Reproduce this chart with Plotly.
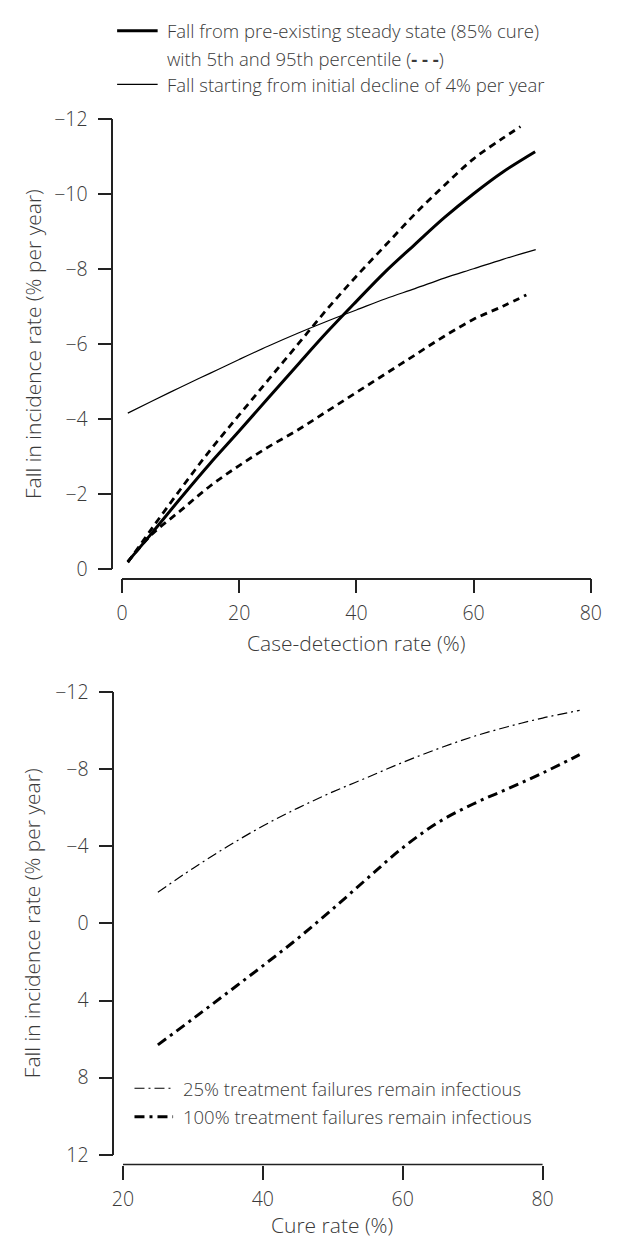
import plotly.graph_objects as go

# ---------------- data ----------------
cdr_x = [1, 5, 10, 15, 20, 25, 30, 35, 40, 45, 50, 55, 60, 65, 70.5]
steady_mean = [-0.19, -0.93, -1.88, -2.8, -3.67, -4.56, -5.44, -6.31, -7.13, -7.93, -8.65, -9.36, -10.0, -10.58, -11.12]

cdr_x_p95 = [1, 5, 10, 15, 20, 25, 30, 35, 40, 45, 50, 55, 60, 65, 68]
steady_p95 = [-0.17, -1.05, -2.12, -3.15, -4.1, -5.04, -5.98, -6.92, -7.8, -8.63, -9.46, -10.22, -10.93, -11.48, -11.79]

cdr_x_p5 = [1, 5, 10, 15, 20, 25, 30, 35, 40, 45, 50, 55, 60, 65, 69]
steady_p5 = [-0.18, -0.9, -1.55, -2.2, -2.75, -3.25, -3.7, -4.2, -4.7, -5.2, -5.7, -6.2, -6.65, -7.0, -7.3]

cdr_x_decl = [1, 5, 10, 15, 20, 25, 30, 35, 40, 45, 50, 55, 60, 65, 70.6]
initial_decline = [-4.15, -4.46, -4.84, -5.21, -5.58, -5.94, -6.28, -6.6, -6.9, -7.2, -7.47, -7.75, -8.0, -8.25, -8.51]

cure_x = [25, 30, 35, 40, 45, 50, 55, 60, 65, 70, 75, 80, 85.3]
fail25 = [-1.62, -2.85, -4.0, -5.05, -5.98, -6.82, -7.58, -8.35, -9.05, -9.68, -10.2, -10.65, -11.05]
fail100 = [6.3, 4.95, 3.58, 2.2, 0.78, -0.75, -2.35, -3.92, -5.22, -6.18, -6.98, -7.8, -8.75]

top_xticks = [0, 20, 40, 60, 80]
top_yticks = [-12, -10, -8, -6, -4, -2, 0]
bot_xticks = [20, 40, 60, 80]
bot_yticks = [-12, -8, -4, 0, 4, 8, 12]

legend_top = ["Fall from pre-existing steady state (85% cure)",
              "with 5th and 95th percentile (<b>- - -</b>)",
              "Fall starting from initial decline of 4% per year"]
legend_bot = ["25% treatment failures remain infectious",
              "100% treatment failures remain infectious"]

# ---------------- style ----------------
W, H = 624, 1249
FONT = "Open Sans"
TXT = "#3a3a3a"
AX = "#222222"

def px(x):
    return x / W

def py(y):
    return 1 - y / H

fig = go.Figure()

fig.add_trace(go.Scatter(x=cdr_x, y=steady_mean, mode="lines", xaxis="x", yaxis="y",
                         line=dict(color="black", width=3, shape="spline"), showlegend=False))
fig.add_trace(go.Scatter(x=cdr_x_p95, y=steady_p95, mode="lines", xaxis="x", yaxis="y",
                         line=dict(color="black", width=2.8, dash="7px,5px", shape="spline"), showlegend=False))
fig.add_trace(go.Scatter(x=cdr_x_p5, y=steady_p5, mode="lines", xaxis="x", yaxis="y",
                         line=dict(color="black", width=2.8, dash="7px,5px", shape="spline"), showlegend=False))
fig.add_trace(go.Scatter(x=cdr_x_decl, y=initial_decline, mode="lines", xaxis="x", yaxis="y",
                         line=dict(color="black", width=1.2, shape="spline"), showlegend=False))

fig.add_trace(go.Scatter(x=cure_x, y=fail25, mode="lines", xaxis="x2", yaxis="y2",
                         line=dict(color="black", width=1.2, dash="10px,4px,2px,4px", shape="spline"),
                         showlegend=False))
fig.add_trace(go.Scatter(x=cure_x, y=fail100, mode="lines", xaxis="x2", yaxis="y2",
                         line=dict(color="black", width=3, dash="10px,5px,3px,5px", shape="spline"),
                         showlegend=False))

tickfont = dict(family=FONT, size=19.5, color=TXT, weight=300)
common = dict(showgrid=False, zeroline=False, ticks="outside", ticklen=14, tickwidth=1.5,
              tickcolor=AX, linecolor=AX, linewidth=1.5, tickfont=tickfont, anchor="free")

fig.update_layout(
    width=W, height=H, margin=dict(l=0, r=0, t=0, b=0),
    paper_bgcolor="white", plot_bgcolor="white", showlegend=False,
    xaxis=dict(domain=[px(115), px(601)], range=[0, 80], tickvals=top_xticks,
               position=py(577), showline=True, ticklabelstandoff=3, **common),
    yaxis=dict(domain=[py(567), py(107)], range=[0, -12], tickvals=top_yticks,
               position=px(105), showline=True, ticklabelstandoff=6, **common),
    xaxis2=dict(domain=[px(116), px(116 + 66 * 7.25)], range=[20, 86], tickvals=bot_xticks,
                position=py(1176), showline=False, ticklabelstandoff=3, **common),
    yaxis2=dict(domain=[py(1166), py(693)], range=[12, -12], tickvals=bot_yticks,
                position=px(106), showline=True, ticklabelstandoff=6, **common),
)

fig.add_shape(type="line", xref="x2", yref="paper", x0=20, x1=80, y0=py(1176), y1=py(1176),
              line=dict(color=AX, width=1.5))

title_font = dict(family=FONT, size=21, color=TXT, weight=300)
fig.add_annotation(text="Case-detection rate (%)", xref="paper", yref="paper", x=px(358), y=py(643),
                   showarrow=False, font=title_font, xanchor="center", yanchor="middle")
fig.add_annotation(text="Cure rate (%)", xref="paper", yref="paper", x=px(333), y=py(1238),
                   showarrow=False, font=title_font, xanchor="center", yanchor="middle")
fig.add_annotation(text="Fall in incidence rate (% per year)", xref="paper", yref="paper",
                   x=px(22), y=py(337), textangle=-90, showarrow=False, font=title_font,
                   xanchor="center", yanchor="middle")
fig.add_annotation(text="Fall in incidence rate (% per year)", xref="paper", yref="paper",
                   x=px(22), y=py(929), textangle=-90, showarrow=False, font=title_font,
                   xanchor="center", yanchor="middle")

leg_font = dict(family=FONT, size=18.5, color=TXT, weight=300)
for txt, yy in zip(legend_top, [17, 45, 72]):
    fig.add_annotation(text=txt, xref="paper", yref="paper", x=px(160), y=py(yy),
                       showarrow=False, font=leg_font, xanchor="left", yanchor="middle")
fig.add_shape(type="line", xref="paper", yref="paper", x0=px(110), x1=px(152), y0=py(17), y1=py(17),
              line=dict(color="black", width=3))
fig.add_shape(type="line", xref="paper", yref="paper", x0=px(110), x1=px(152), y0=py(72), y1=py(72),
              line=dict(color="black", width=1.2))

for txt, yy in zip(legend_bot, [1098, 1127]):
    fig.add_annotation(text=txt, xref="paper", yref="paper", x=px(176), y=py(yy),
                       showarrow=False, font=leg_font, xanchor="left", yanchor="middle")
fig.add_shape(type="line", xref="paper", yref="paper", x0=px(128), x1=px(168), y0=py(1098), y1=py(1098),
              line=dict(color="black", width=1.2, dash="10px,4px,2px,4px"))
fig.add_shape(type="line", xref="paper", yref="paper", x0=px(128), x1=px(168), y0=py(1127), y1=py(1127),
              line=dict(color="black", width=3, dash="10px,5px,3px,5px"))

fig.write_html("out.html", config={"displayModeBar": False},
               post_script="document.body.style.margin='0';document.body.style.overflow='hidden';")
